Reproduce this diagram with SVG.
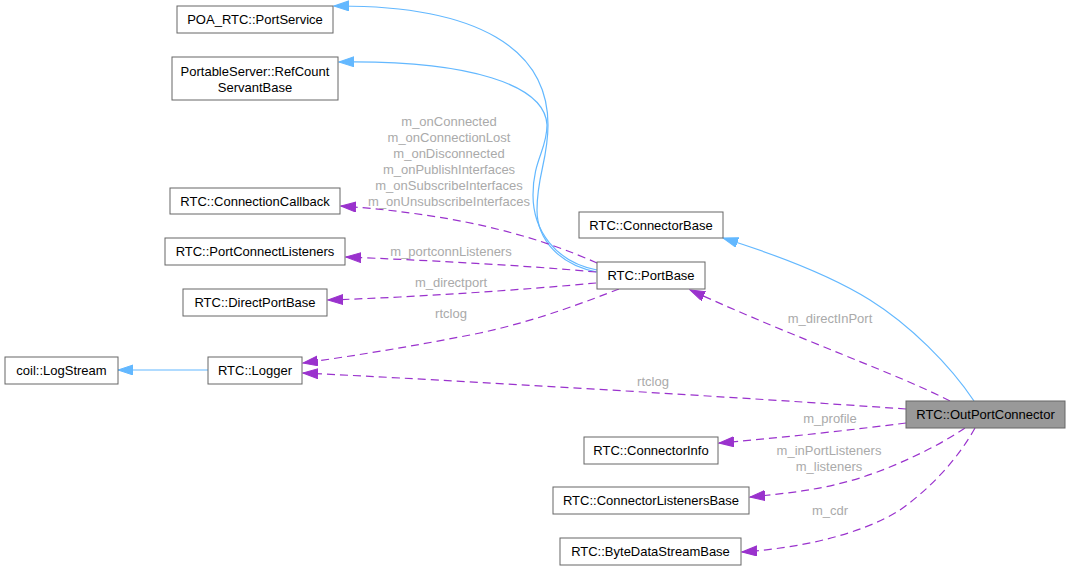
<svg xmlns="http://www.w3.org/2000/svg" width="1070" height="570" viewBox="0 0 1070 570">
<defs>
<style>
.n rect{fill:#fff;stroke:#666;stroke-width:1}
.n text{font-family:"Liberation Sans",Arial,sans-serif;font-size:13px;fill:#000;text-anchor:middle}
.inh{fill:none;stroke:#63b8ff;stroke-width:1.2}
.use{fill:none;stroke:#9a32cd;stroke-width:1.2;stroke-dasharray:8,5}
.lbl{font-family:"Liberation Sans",Arial,sans-serif;font-size:13px;fill:#aaa;text-anchor:middle}
</style>
<marker id="ab" markerUnits="userSpaceOnUse" markerWidth="16" markerHeight="12" refX="15" refY="5" orient="auto"><path d="M0,0 L15,5 L0,10 z" fill="#63b8ff" stroke="#63b8ff"/></marker>
<marker id="ap" markerUnits="userSpaceOnUse" markerWidth="16" markerHeight="12" refX="15" refY="5" orient="auto"><path d="M0,0 L15,5 L0,10 z" fill="#9a32cd" stroke="#9a32cd"/></marker>
</defs>
<rect width="1070" height="570" fill="#fff"/>
<g id="edges">
<path class="inh" marker-end="url(#ab)" d="M597,272 C560,265 537,240 537,210 C537,175 548,160 548,125 C548,50 480,5 334,6"/>
<path class="inh" marker-end="url(#ab)" d="M597,270 C555,262 533,230 533,195 C533,160 547,150 547,125 C545,85 470,60 339,62"/>
<path class="inh" marker-end="url(#ab)" d="M974,401 C950,365 910,325 870,300 C830,275 780,256 723,238"/>
<path class="inh" marker-end="url(#ab)" d="M208,370 L118,370"/>
<path class="use" marker-end="url(#ap)" d="M597,263 C545,240 470,215 341,206"/>
<path class="use" marker-end="url(#ap)" d="M596,272 C520,265 420,260 346,257"/>
<path class="use" marker-end="url(#ap)" d="M596,283 C520,290 420,297 328,300"/>
<path class="use" marker-end="url(#ap)" d="M619,289 C590,300 540,320 480,333 C420,345 360,355 303,363"/>
<path class="use" marker-end="url(#ap)" d="M906,409 C750,398 450,380 303,373"/>
<path class="use" marker-end="url(#ap)" d="M950,401 C900,375 800,340 690,290"/>
<path class="use" marker-end="url(#ap)" d="M906,423 C850,430 790,437 719,443"/>
<path class="use" marker-end="url(#ap)" d="M965,428 C940,445 900,465 860,478 C820,490 790,493 750,497"/>
<path class="use" marker-end="url(#ap)" d="M975,428 C960,455 935,485 900,510 C860,535 800,548 742,552"/>
<text class="lbl" x="449" y="126">m_onConnected</text>
<text class="lbl" x="449" y="142">m_onConnectionLost</text>
<text class="lbl" x="449" y="158">m_onDisconnected</text>
<text class="lbl" x="449" y="174">m_onPublishInterfaces</text>
<text class="lbl" x="449" y="190">m_onSubscribeInterfaces</text>
<text class="lbl" x="449" y="206">m_onUnsubscribeInterfaces</text>
<text class="lbl" x="451" y="256">m_portconnListeners</text>
<text class="lbl" x="451" y="287">m_directport</text>
<text class="lbl" x="451" y="318">rtclog</text>
<text class="lbl" x="653" y="386">rtclog</text>
<text class="lbl" x="830" y="323">m_directInPort</text>
<text class="lbl" x="830" y="423">m_profile</text>
<text class="lbl" x="829" y="455">m_inPortListeners</text>
<text class="lbl" x="829" y="471">m_listeners</text>
<text class="lbl" x="830" y="515">m_cdr</text>
</g>
<g id="PortService" class="n"><rect x="177" y="6" width="156" height="27"/><text x="255" y="24">POA_RTC::PortService</text></g>
<g id="RefCountServantBase" class="n"><rect x="172" y="57" width="166" height="43"/><text x="255" y="75.5">PortableServer::RefCount</text><text x="255" y="91.5">ServantBase</text></g>
<g id="ConnectionCallback" class="n"><rect x="170" y="188" width="170" height="26"/><text x="255" y="206">RTC::ConnectionCallback</text></g>
<g id="PortConnectListeners" class="n"><rect x="165" y="238" width="180" height="27"/><text x="255" y="256">RTC::PortConnectListeners</text></g>
<g id="DirectPortBase" class="n"><rect x="183" y="289" width="144" height="27"/><text x="255" y="307">RTC::DirectPortBase</text></g>
<g id="Logger" class="n"><rect x="208" y="357" width="94" height="27"/><text x="255" y="375">RTC::Logger</text></g>
<g id="LogStream" class="n"><rect x="5" y="357" width="113" height="27"/><text x="61.5" y="375">coil::LogStream</text></g>
<g id="PortBase" class="n"><rect x="597" y="262" width="108" height="27"/><text x="651" y="280">RTC::PortBase</text></g>
<g id="ConnectorBase" class="n"><rect x="579" y="212" width="144" height="26"/><text x="651" y="230">RTC::ConnectorBase</text></g>
<g id="OutPortConnector" class="n"><rect x="906" y="401" width="159" height="27" style="fill:#999"/><text x="985.5" y="419">RTC::OutPortConnector</text></g>
<g id="ConnectorInfo" class="n"><rect x="584" y="437" width="134" height="27"/><text x="651" y="455">RTC::ConnectorInfo</text></g>
<g id="ConnectorListenersBase" class="n"><rect x="553" y="487" width="196" height="27"/><text x="651" y="505">RTC::ConnectorListenersBase</text></g>
<g id="ByteDataStreamBase" class="n"><rect x="560" y="538" width="181" height="27"/><text x="650.5" y="556">RTC::ByteDataStreamBase</text></g>
</svg>
